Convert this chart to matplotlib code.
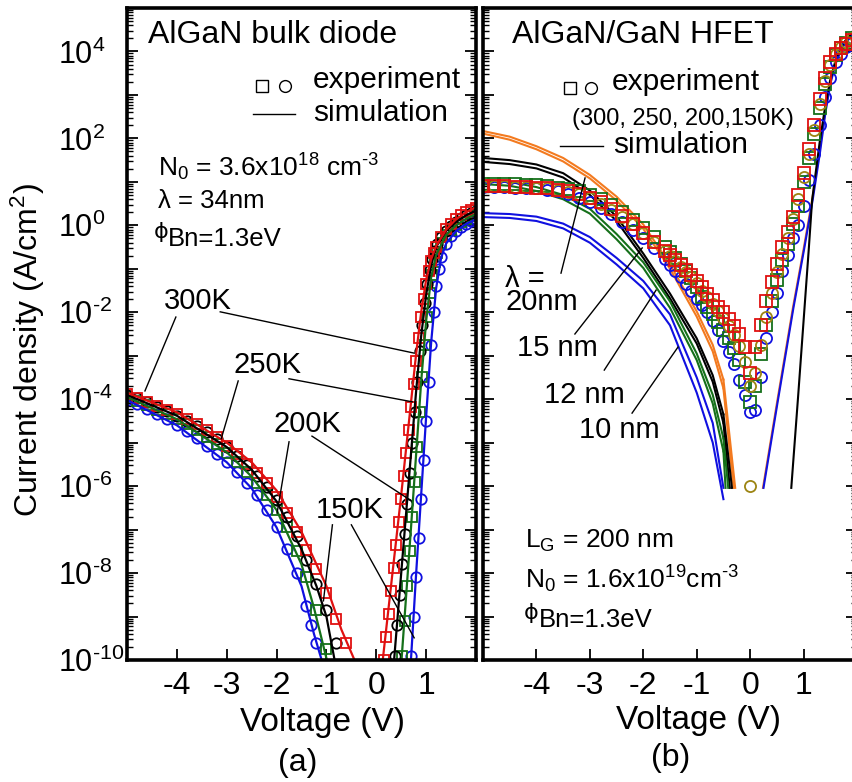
"""
Reverse / forward I-V of an AlGaN bulk diode (a) and an AlGaN/GaN HFET gate (b)
experiment (markers) against simulation (lines), log current density.
"""

import numpy as np
import matplotlib.pyplot as plt
from matplotlib.ticker import FixedLocator, LogLocator, FuncFormatter, NullFormatter

plt.rcParams['font.family'] = ['Liberation Sans', 'DejaVu Sans']
plt.rcParams['mathtext.fontset'] = 'custom'
plt.rcParams['mathtext.rm'] = 'Liberation Sans'
plt.rcParams['mathtext.it'] = 'Liberation Sans:italic'
plt.rcParams['mathtext.default'] = 'regular'
plt.rcParams['axes.unicode_minus'] = False

HY = '\u2010'  # short hyphen for exponents, as in the original figure
PHI = '\u03d5'  # straight-stroke phi

# ---------------------------------------------------------------- panel (a)
# experiment, log10 of J (A/cm^2), one list per temperature
diode_v_300 = [-5.0, -4.8, -4.6, -4.4, -4.2, -4.0, -3.8, -3.6, -3.4, -3.2, -3.0, -2.8,
               -2.6, -2.4, -2.2, -2.0, -1.8, -1.6, -1.4, -1.2, -1.0, -0.8, -0.6,
               0.15, 0.2, 0.25, 0.3, 0.35, 0.4, 0.45, 0.5, 0.55, 0.6, 0.65, 0.7, 0.75,
               0.8, 0.85, 0.9, 0.95, 1.0, 1.05, 1.1, 1.15, 1.2,
               1.3, 1.4, 1.5, 1.6, 1.7, 1.8, 1.9, 2.0]
diode_logj_300 = [-3.88, -3.97, -4.06, -4.15, -4.25, -4.35, -4.46, -4.58, -4.72, -4.88, -5.07, -5.27,
                  -5.48, -5.70, -5.93, -6.24, -6.62, -7.05, -7.48, -7.90, -8.45, -9.05, -9.60,
                  -10.0, -9.47, -8.94, -8.41, -7.88, -7.35, -6.82, -6.29, -5.76, -5.23, -4.70, -4.17, -3.64,
                  -3.11, -2.60, -2.12, -1.70, -1.35, -1.06, -0.83, -0.64, -0.49,
                  -0.26, -0.09, 0.04, 0.14, 0.23, 0.30, 0.36, 0.41]

diode_v_250 = [-5.0, -4.8, -4.6, -4.4, -4.2, -4.0, -3.8, -3.6, -3.4, -3.2, -3.0, -2.8,
               -2.6, -2.4, -2.2, -2.0, -1.8, -1.6, -1.4, -1.2, -1.0, -0.8,
               0.37, 0.42, 0.47, 0.52, 0.57, 0.62, 0.67, 0.72, 0.77, 0.82, 0.87, 0.92,
               0.97, 1.02, 1.07, 1.12, 1.17, 1.22,
               1.3, 1.4, 1.5, 1.6, 1.7, 1.8, 1.9, 2.0]
diode_logj_250 = [-3.90, -3.98, -4.07, -4.17, -4.27, -4.38, -4.50, -4.62, -4.76, -4.92, -5.10, -5.30,
                  -5.52, -5.76, -6.02, -6.33, -6.72, -7.15, -7.70, -8.25, -8.85, -9.60,
                  -9.9, -9.2, -8.5, -7.8, -7.1, -6.4, -5.7, -5.0, -4.3, -3.6, -2.9, -2.3,
                  -1.78, -1.35, -1.02, -0.77, -0.58, -0.44,
                  -0.27, -0.12, -0.01, 0.08, 0.16, 0.23, 0.29, 0.34]

diode_v_200 = [-5.0, -4.8, -4.6, -4.4, -4.2, -4.0, -3.8, -3.6, -3.4, -3.2, -3.0, -2.8,
               -2.6, -2.4, -2.2, -2.0, -1.8, -1.6, -1.4, -1.2, -1.0,
               0.52, 0.57, 0.62, 0.67, 0.72, 0.77, 0.82, 0.87, 0.92, 0.97, 1.02, 1.07,
               1.12, 1.17, 1.22,
               1.3, 1.4, 1.5, 1.6, 1.7, 1.8, 1.9, 2.0]
diode_logj_200 = [-3.95, -4.04, -4.14, -4.24, -4.35, -4.46, -4.58, -4.72, -4.87, -5.04, -5.23, -5.44,
                  -5.67, -5.92, -6.20, -6.55, -6.95, -7.50, -8.10, -8.85, -9.75,
                  -9.9, -9.1, -8.3, -7.5, -6.7, -5.9, -5.1, -4.3, -3.5, -2.75, -2.1, -1.55,
                  -1.15, -0.85, -0.63,
                  -0.40, -0.22, -0.10, 0.0, 0.08, 0.15, 0.21, 0.26]

diode_v_150 = [-5.0, -4.8, -4.6, -4.4, -4.2, -4.0, -3.8, -3.6, -3.4, -3.2, -3.0, -2.8,
               -2.6, -2.4, -2.2, -2.0, -1.8, -1.6, -1.4, -1.3, -1.2,
               0.7, 0.75, 0.8, 0.85, 0.9, 0.95, 1.0, 1.05, 1.1, 1.15, 1.2, 1.25, 1.3,
               1.4, 1.5, 1.6, 1.7, 1.8, 1.9, 2.0]
diode_logj_150 = [-4.02, -4.12, -4.23, -4.34, -4.46, -4.60, -4.74, -4.90, -5.07, -5.25, -5.45, -5.67,
                  -5.92, -6.20, -6.55, -6.95, -7.45, -8.00, -8.75, -9.20, -9.60,
                  -9.9, -9.0, -8.1, -7.2, -6.3, -5.4, -4.5, -3.6, -2.75, -2.0, -1.4, -1.0, -0.72,
                  -0.42, -0.25, -0.13, -0.04, 0.03, 0.09, 0.14]

# simulation, reverse and forward branches
dsim_rev_v_300 = [-5.0, -4.0, -3.0, -2.5, -2.0, -1.5, -1.0, -0.7, -0.4]
dsim_rev_logj_300 = [-3.85, -4.30, -5.00, -5.45, -6.10, -7.05, -8.30, -9.30, -10.1]
dsim_rev_v_250 = [-5.0, -4.0, -3.0, -2.5, -2.0, -1.5, -1.2, -1.0, -0.82]
dsim_rev_logj_250 = [-3.90, -4.38, -5.10, -5.62, -6.35, -7.45, -8.30, -9.00, -10.1]
dsim_rev_v_200 = [-5.0, -4.0, -3.0, -2.5, -2.0, -1.5, -1.25, -0.97]
dsim_rev_logj_200 = [-3.95, -4.46, -5.22, -5.78, -6.55, -7.80, -8.80, -10.1]
dsim_rev_v_150 = [-5.0, -4.0, -3.0, -2.5, -2.0, -1.5, -1.25, -1.07]
dsim_rev_logj_150 = [-4.02, -4.60, -5.45, -6.05, -6.95, -8.30, -9.40, -10.1]

dsim_fwd_v_300 = [0.12, 0.5, 0.8, 0.9, 1.0, 1.1, 1.2, 1.4, 1.6, 1.8, 2.0]
dsim_fwd_logj_300 = [-10.1, -6.2, -2.95, -2.0, -1.25, -0.78, -0.48, -0.10, 0.14, 0.30, 0.42]
dsim_fwd_v_250 = [0.35, 0.6, 0.8, 0.9, 1.0, 1.1, 1.2, 1.4, 1.6, 1.8, 2.0]
dsim_fwd_logj_250 = [-10.1, -6.6, -3.8, -2.55, -1.6, -0.92, -0.50, -0.12, 0.08, 0.23, 0.34]
dsim_fwd_v_200 = [0.5, 0.7, 0.9, 1.0, 1.1, 1.2, 1.4, 1.6, 1.8, 2.0]
dsim_fwd_logj_200 = [-10.1, -6.9, -3.6, -2.2, -1.2, -0.68, -0.22, 0.0, 0.15, 0.26]
dsim_fwd_v_150 = [0.69, 0.8, 0.9, 1.0, 1.1, 1.2, 1.3, 1.4, 1.6, 1.8, 2.0]
dsim_fwd_logj_150 = [-10.1, -8.0, -6.2, -4.4, -2.7, -1.45, -0.75, -0.42, -0.13, 0.03, 0.14]

# ---------------------------------------------------------------- panel (b)
hfet_v = [-5.0, -4.8, -4.6, -4.4, -4.2, -4.0, -3.8, -3.6, -3.4, -3.2, -3.0, -2.8,
          -2.6, -2.4, -2.2, -2.0, -1.8, -1.6,
          -1.5, -1.4, -1.3, -1.2, -1.1, -1.0, -0.9, -0.8, -0.7, -0.6, -0.5, -0.4,
          -0.3, -0.2, -0.1, 0.0,
          0.1, 0.2, 0.3, 0.4, 0.5, 0.6, 0.7, 0.8, 0.9, 1.0, 1.1, 1.2, 1.3, 1.4,
          1.5, 1.6, 1.7, 1.8, 1.9]
hfet_logj_300 = [0.90, 0.90, 0.90, 0.89, 0.88, 0.87, 0.85, 0.82, 0.78, 0.73, 0.64, 0.53,
                 0.38, 0.22, 0.02, -0.18, -0.38, -0.58,
                 -0.68, -0.80, -0.92, -1.03, -1.14, -1.27, -1.42, -1.57, -1.72, -1.87, -2.00, -2.15,
                 -2.32, -2.50, -2.80, -3.40,
                 -2.80, -2.30, -1.75, -1.30, -0.90, -0.50, -0.15, 0.20, 0.70, 1.20, 1.75, 2.30, 2.90, 3.40,
                 3.75, 3.95, 4.08, 4.18, 4.27]
hfet_logj_250 = [0.90, 0.90, 0.90, 0.89, 0.88, 0.87, 0.85, 0.82, 0.77, 0.71, 0.62, 0.50,
                 0.36, 0.20, 0.02, -0.18, -0.38, -0.60,
                 -0.71, -0.83, -0.95, -1.07, -1.20, -1.33, -1.50, -1.66, -1.82, -1.98, -2.14, -2.32,
                 -2.52, -2.78, -3.15, -3.70,
                 -3.40, -2.75, -2.10, -1.55, -1.08, -0.65, -0.28, 0.15, 0.60, 1.12, 1.65, 2.20, 2.80, 3.32,
                 3.70, 3.95, 4.10, 4.22, 4.32]
hfet_logj_200 = [0.95, 0.95, 0.95, 0.94, 0.93, 0.92, 0.90, 0.87, 0.83, 0.78, 0.70, 0.60,
                 0.46, 0.30, 0.12, -0.07, -0.27, -0.50,
                 -0.62, -0.76, -0.90, -1.05, -1.22, -1.42, -1.65, -1.87, -2.05, -2.22, -2.40, -2.60,
                 -2.82, -3.10, -3.60, -4.06,
                 -3.70, -2.95, -2.30, -1.75, -1.25, -0.80, -0.42, 0.02, 0.45, 1.00, 1.55, 2.10, 2.70, 3.25,
                 3.65, 3.92, 4.08, 4.20, 4.30]
hfet_logj_150 = [0.88, 0.88, 0.88, 0.87, 0.86, 0.85, 0.82, 0.78, 0.72, 0.64, 0.53, 0.40,
                 0.25, 0.08, -0.10, -0.30, -0.52, -0.78,
                 -0.92, -1.06, -1.20, -1.34, -1.50, -1.70, -1.84, -2.00, -2.20, -2.40, -2.65, -2.92,
                 -3.20, -3.55, -3.90, -4.30,
                 -4.25, -3.50, -2.60, -2.00, -1.55, -1.05, -0.68, -0.30, 0.00, 0.45, 1.05, 1.65, 2.30, 2.95,
                 3.40, 3.75, 3.95, 4.10, 4.20]
# single 250 K point sitting on the 1e-6 floor
hfet_floor_v = [0.0]
hfet_floor_logj = [-6.0]

# simulation, two curves per screening length lambda
hsim_rev_v = [-5.0, -4.5, -4.0, -3.5, -3.0, -2.5, -2.0, -1.5, -1.0, -0.7, -0.5]
hsim_20nm_a = [2.17, 2.04, 1.82, 1.55, 1.16, 0.66, 0.02, -0.90, -1.98, -2.75, -3.55]
hsim_20nm_b = [2.11, 1.97, 1.75, 1.47, 1.08, 0.57, -0.08, -1.00, -2.10, -2.90, -3.75]
hsim_15nm_a = [1.55, 1.50, 1.40, 1.20, 0.80, 0.20, -0.65, -1.57, -2.60, -3.45, -4.35]
hsim_15nm_b = [1.46, 1.41, 1.31, 1.10, 0.70, 0.10, -0.75, -1.68, -2.72, -3.60, -4.55]
hsim_12nm_a = [1.04, 1.00, 0.88, 0.70, 0.38, -0.20, -0.85, -1.75, -2.95, -3.90, -4.90]
hsim_12nm_b = [0.95, 0.91, 0.79, 0.60, 0.27, -0.32, -0.98, -1.90, -3.10, -4.10, -5.20]
hsim_10nm_a = [0.28, 0.26, 0.20, 0.04, -0.27, -0.75, -1.28, -2.05, -3.50, -4.55, -6.04]
hsim_10nm_b = [0.19, 0.17, 0.10, -0.07, -0.40, -0.90, -1.45, -2.30, -3.85, -5.00, -6.3]
# voltages where the upper curves drop through the 1e-6 floor
hsim_end_v = {'20a': -0.28, '20b': -0.31, '15a': -0.34, '15b': -0.38,
              '12a': -0.41, '12b': -0.46}
hsim_end_logj = -6.04

hsim_fwd_v = [0.24, 0.5, 0.8, 1.0, 1.16, 1.3, 1.4, 1.5, 1.6, 1.7, 1.8, 1.9]
hsim_fwd_logj = [-6.04, -4.1, -1.9, -0.55, 0.58, 1.7, 2.6, 3.3, 3.75, 4.05, 4.25, 4.4]
hsim_fwd_v_15nm = [0.77, 0.9, 1.0, 1.1, 1.16, 1.3, 1.4, 1.5, 1.6, 1.7, 1.8, 1.9]
hsim_fwd_logj_15nm = [-6.04, -3.9, -2.2, -0.5, 0.58, 1.9, 2.7, 3.35, 3.8, 4.1, 4.28, 4.42]

RED, BLACK, GREEN, BLUE = '#e01010', '#000000', '#15701a', '#1010e0'
OLIVE, ORANGE = '#9c8412', '#f37a1f'


def J(logj):
    return 10.0 ** np.asarray(logj, dtype=float)


def style_axes(ax, show_labels):
    ax.set_yscale('log')
    ax.set_xlim(-5, 2)
    ax.set_ylim(1e-10, 1e5)
    ax.xaxis.set_major_locator(FixedLocator([-4, -3, -2, -1, 0, 1]))
    ax.yaxis.set_major_locator(LogLocator(base=10, numticks=30))
    ax.yaxis.set_minor_locator(LogLocator(base=10, subs=np.arange(2, 10), numticks=30))
    ax.yaxis.set_minor_formatter(NullFormatter())
    if show_labels:
        def fmt(y, pos):
            e = int(round(np.log10(y)))
            if e % 2:
                return ''
            s = str(abs(e)) if e >= 0 else HY + str(abs(e))
            return '$10^{%s}$' % s
        ax.yaxis.set_major_formatter(FuncFormatter(fmt))
    else:
        ax.yaxis.set_major_formatter(NullFormatter())
    ax.tick_params(axis='both', which='major', direction='in', length=8, width=1.3,
                   right=True, top=False)
    ax.tick_params(axis='x', labelsize=23, pad=8)
    ax.tick_params(axis='y', labelsize=22, pad=50)
    ax.tick_params(axis='y', which='minor', direction='in', length=4, width=1.0, right=True)
    for s in ax.spines.values():
        s.set_linewidth(2.6)


fig = plt.figure(figsize=(8.53, 7.82), dpi=100)
ax1 = fig.add_axes([127 / 853, 122 / 782, 349 / 853, 652 / 782])
ax2 = fig.add_axes([483 / 853, 122 / 782, 374 / 853, 652 / 782])
style_axes(ax1, True)
style_axes(ax2, False)
for lab in ax1.get_yticklabels():
    lab.set_horizontalalignment('left')

# ---------------- panel (a)
mk = dict(ls='none', mfc='none', mew=1.3)
ax1.plot(diode_v_150, J(diode_logj_150), marker='o', ms=7.5, mec=BLUE, **mk)
ax1.plot(diode_v_200, J(diode_logj_200), marker='s', ms=7.5, mec=GREEN, **mk)
ax1.plot(diode_v_250, J(diode_logj_250), marker='o', ms=7.5, mec=BLACK, **mk)
ax1.plot(diode_v_300, J(diode_logj_300), marker='s', ms=7.5, mec=RED, **mk)

for v, lj, c in [(dsim_rev_v_150, dsim_rev_logj_150, BLUE), (dsim_rev_v_200, dsim_rev_logj_200, GREEN),
                 (dsim_rev_v_250, dsim_rev_logj_250, BLACK), (dsim_rev_v_300, dsim_rev_logj_300, RED),
                 (dsim_fwd_v_150, dsim_fwd_logj_150, BLUE), (dsim_fwd_v_200, dsim_fwd_logj_200, GREEN),
                 (dsim_fwd_v_250, dsim_fwd_logj_250, BLACK), (dsim_fwd_v_300, dsim_fwd_logj_300, RED)]:
    ax1.plot(v, J(lj), color=c, lw=1.6)

# temperature labels with leader lines (data coordinates)
leaders_a = [((-4.02, -2.11), (-4.64, -3.81)), ((-3.13, -1.99), (0.76, -2.94)),
             ((-2.77, -3.58), (-3.11, -4.91)), ((-1.75, -3.53), (0.72, -4.06)),
             ((-1.75, -4.98), (-1.99, -6.62)), ((-1.29, -4.85), (0.68, -6.32)),
             ((-0.88, -6.89), (-1.06, -8.64)), ((-0.50, -6.89), (0.76, -9.49))]
for (x0, y0), (x1, y1) in leaders_a:
    ax1.plot([x0, x1], [10 ** y0, 10 ** y1], color='black', lw=1.0)

for txt, x, y in [('300K', 0.106, 0.538), ('250K', 0.304, 0.440),
                  ('200K', 0.421, 0.350), ('150K', 0.542, 0.218)]:
    ax1.text(x, y, txt, transform=ax1.transAxes, fontsize=21, va='baseline', ha='left')

ax1.text(0.06, 0.946, 'AlGaN bulk diode', transform=ax1.transAxes, fontsize=23, va='baseline')
ax1.plot([0.387], [0.88], transform=ax1.transAxes, marker='s', ms=8, mfc='none', mec='black', mew=1.0)
ax1.plot([0.453], [0.88], transform=ax1.transAxes, marker='o', ms=8.5, mfc='none', mec='black', mew=1.0)
ax1.text(0.533, 0.877, 'experiment', transform=ax1.transAxes, fontsize=21.5, va='baseline')
ax1.plot([0.361, 0.481], [0.837, 0.837], transform=ax1.transAxes, color='black', lw=1.0)
ax1.text(0.533, 0.827, 'simulation', transform=ax1.transAxes, fontsize=21.5, va='baseline')
ax1.text(0.09, 0.741, 'N$_0$ = 3.6x10$^{18}$ cm$^{%s3}$' % HY, transform=ax1.transAxes,
         fontsize=19, va='baseline')
ax1.text(0.09, 0.693, 'λ = 34nm', transform=ax1.transAxes, fontsize=18.5, va='baseline')
ax1.text(0.078, 0.648, PHI, transform=ax1.transAxes, fontsize=16, va='baseline',
         family=['DejaVu Sans'])
ax1.text(0.118, 0.635, 'Bn=1.3eV', transform=ax1.transAxes, fontsize=18.5, va='baseline')

# ---------------- panel (b)
for lj, c in [(hsim_20nm_a, ORANGE), (hsim_20nm_b, ORANGE), (hsim_15nm_a, BLACK), (hsim_15nm_b, BLACK),
              (hsim_12nm_a, GREEN), (hsim_12nm_b, GREEN), (hsim_10nm_a, BLUE), (hsim_10nm_b, BLUE)]:
    ax2.plot(hsim_rev_v, J(lj), color=c, lw=1.5)
for key, lj, c in [('20a', hsim_20nm_a, ORANGE), ('20b', hsim_20nm_b, ORANGE),
                   ('15a', hsim_15nm_a, BLACK), ('15b', hsim_15nm_b, BLACK),
                   ('12a', hsim_12nm_a, GREEN), ('12b', hsim_12nm_b, GREEN)]:
    ax2.plot([hsim_rev_v[-1], hsim_end_v[key]], J([lj[-1], hsim_end_logj]), color=c, lw=1.5)
ax2.plot(hsim_fwd_v, J(hsim_fwd_logj), color=ORANGE, lw=1.5)
ax2.plot(np.add(hsim_fwd_v, 0.01), J(hsim_fwd_logj), color=BLUE, lw=1.5)
ax2.plot(hsim_fwd_v_15nm, J(hsim_fwd_logj_15nm), color=BLACK, lw=1.5)

mk2 = dict(ls='none', mfc='none', mew=1.3)
ax2.plot(hfet_v, J(hfet_logj_150), marker='o', ms=8, mec=BLUE, **mk2)
ax2.plot(hfet_v, J(hfet_logj_200), marker='s', ms=8.5, mec=GREEN, **mk2)
ax2.plot(hfet_v, J(hfet_logj_250), marker='o', ms=8, mec=OLIVE, **mk2)
ax2.plot(hfet_floor_v, J(hfet_floor_logj), marker='o', ms=8, mec=OLIVE, **mk2)
ax2.plot(hfet_v, J(hfet_logj_300), marker='s', ms=8.5, mec=RED, **mk2)

leaders_b = [((-3.54, -1.10), (-3.09, 1.09)), ((-3.28, -2.50), (-2.02, -0.52)),
             ((-2.73, -3.33), (-1.76, -1.49)), ((-2.21, -4.32), (-1.35, -2.80))]
for (x0, y0), (x1, y1) in leaders_b:
    ax2.plot([x0, x1], [10 ** y0, 10 ** y1], color='black', lw=1.0)

ax2.text(0.078, 0.946, 'AlGaN/GaN HFET', transform=ax2.transAxes, fontsize=23, va='baseline')
ax2.plot([0.233], [0.877], transform=ax2.transAxes, marker='s', ms=8, mfc='none', mec='black', mew=1.0)
ax2.plot([0.289], [0.877], transform=ax2.transAxes, marker='o', ms=8.5, mfc='none', mec='black', mew=1.0)
ax2.text(0.345, 0.874, 'experiment', transform=ax2.transAxes, fontsize=21.5, va='baseline')
ax2.text(0.238, 0.821, '(300, 250, 200,150K)', transform=ax2.transAxes, fontsize=17, va='baseline')
ax2.plot([0.206, 0.321], [0.788, 0.788], transform=ax2.transAxes, color='black', lw=1.0)
ax2.text(0.348, 0.778, 'simulation', transform=ax2.transAxes, fontsize=21.5, va='baseline')
ax2.text(0.059, 0.537, 'λ =\n20nm', transform=ax2.transAxes, fontsize=21, va='baseline',
         ha='left', multialignment='left', linespacing=0.78)
ax2.text(0.091, 0.466, '15 nm', transform=ax2.transAxes, fontsize=21, va='baseline')
ax2.text(0.163, 0.394, '12 nm', transform=ax2.transAxes, fontsize=21, va='baseline')
ax2.text(0.257, 0.340, '10 nm', transform=ax2.transAxes, fontsize=21, va='baseline')
ax2.text(0.112, 0.172, 'L$_G$ = 200 nm', transform=ax2.transAxes, fontsize=19, va='baseline')
ax2.text(0.112, 0.110, 'N$_0$ = 1.6x10$^{19}$cm$^{%s3}$' % HY, transform=ax2.transAxes,
         fontsize=19, va='baseline')
ax2.text(0.110, 0.063, PHI, transform=ax2.transAxes, fontsize=16, va='baseline',
         family=['DejaVu Sans'])
ax2.text(0.150, 0.050, 'Bn=1.3eV', transform=ax2.transAxes, fontsize=18.5, va='baseline')

# axis titles
fig.text(28 / 853, 1 - 350 / 782, 'Current density (A/cm$^2$)', rotation=90,
         ha='center', va='center', fontsize=23)
fig.text(322 / 853, 1 - 723 / 782, 'Voltage (V)', ha='center', va='center', fontsize=24)
fig.text(699 / 853, 1 - 720 / 782, 'Voltage (V)', ha='center', va='center', fontsize=24)
fig.text(298 / 853, 1 - 763 / 782, '(a)', ha='center', va='center', fontsize=23)
fig.text(671 / 853, 1 - 758 / 782, '(b)', ha='center', va='center', fontsize=23)

fig.savefig('out.png', dpi=100)
